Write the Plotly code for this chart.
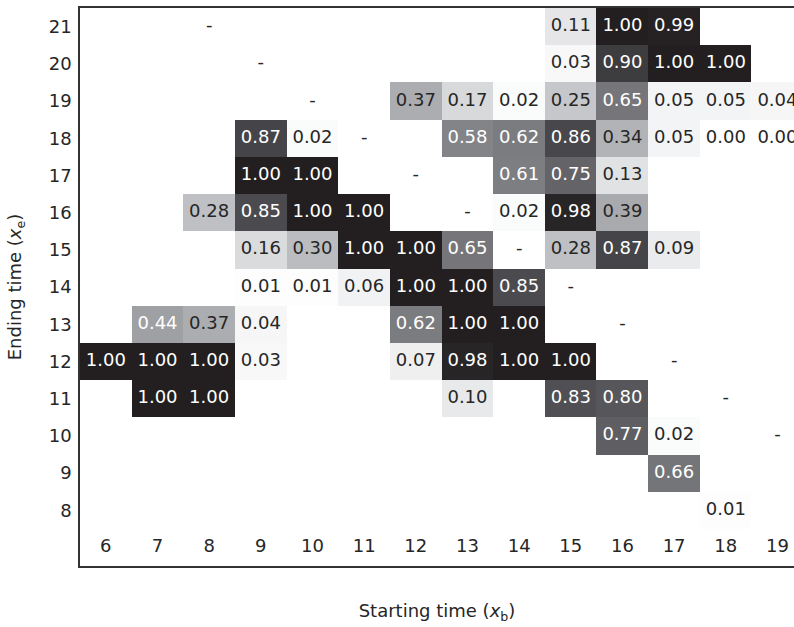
import plotly.graph_objects as go

# ---- data ----
start_times = list(range(6, 20))          # x_b
end_times = list(range(8, 22))            # x_e
N = None
end_8  = [N, N, N, N, N, N, N, N, N, N, N, N, 0.01, N]
end_9  = [N, N, N, N, N, N, N, N, N, N, N, 0.66, N, N]
end_10 = [N, N, N, N, N, N, N, N, N, N, 0.77, 0.02, N, N]
end_11 = [N, 1.00, 1.00, N, N, N, N, 0.10, N, 0.83, 0.80, N, N, N]
end_12 = [1.00, 1.00, 1.00, 0.03, N, N, 0.07, 0.98, 1.00, 1.00, N, N, N, N]
end_13 = [N, 0.44, 0.37, 0.04, N, N, 0.62, 1.00, 1.00, N, N, N, N, N]
end_14 = [N, N, N, 0.01, 0.01, 0.06, 1.00, 1.00, 0.85, N, N, N, N, N]
end_15 = [N, N, N, 0.16, 0.30, 1.00, 1.00, 0.65, N, 0.28, 0.87, 0.09, N, N]
end_16 = [N, N, 0.28, 0.85, 1.00, 1.00, N, N, 0.02, 0.98, 0.39, N, N, N]
end_17 = [N, N, N, 1.00, 1.00, N, N, N, 0.61, 0.75, 0.13, N, N, N]
end_18 = [N, N, N, 0.87, 0.02, N, N, 0.58, 0.62, 0.86, 0.34, 0.05, 0.00, 0.00]
end_19 = [N, N, N, N, N, N, 0.37, 0.17, 0.02, 0.25, 0.65, 0.05, 0.05, 0.04]
end_20 = [N, N, N, N, N, N, N, N, N, 0.03, 0.90, 1.00, 1.00, N]
end_21 = [N, N, N, N, N, N, N, N, N, 0.11, 1.00, 0.99, N, N]

dash_start = [8, 9, 10, 11, 12, 13, 14, 15, 16, 17, 18, 19]
dash_end = [21, 20, 19, 18, 17, 16, 15, 14, 13, 12, 11, 10]

x_tick_labels = [str(v) for v in start_times]
label_row = 7

z = [end_8, end_9, end_10, end_11, end_12, end_13, end_14, end_15,
     end_16, end_17, end_18, end_19, end_20, end_21]

colorscale = [
    [0.00, "rgb(255,255,255)"],
    [0.13, "rgb(225,226,228)"],
    [0.34, "rgb(178,179,182)"],
    [0.50, "rgb(148,149,153)"],
    [0.62, "rgb(123,124,128)"],
    [0.75, "rgb(100,100,104)"],
    [0.86, "rgb(72,72,76)"],
    [1.00, "rgb(35,31,32)"],
]

FONT = "DejaVu Sans"
DARK = "#262626"
FS = 18

fig = go.Figure()
fig.add_trace(go.Heatmap(
    x=start_times, y=end_times, z=z,
    colorscale=colorscale, zmin=0, zmax=1,
    showscale=False, hoverongaps=False,
))

# cell value texts
tx, ty, tt, tc = [], [], [], []
for yi, row in zip(end_times, z):
    for xi, v in zip(start_times, row):
        if v is None:
            continue
        tx.append(xi)
        ty.append(yi)
        tt.append(f"{v:.2f}")
        tc.append("white" if v >= 0.42 else DARK)
fig.add_trace(go.Scatter(
    x=tx, y=ty, text=tt, mode="text",
    textfont=dict(family=FONT, size=FS, color=tc),
    textposition="middle center", hoverinfo="skip", showlegend=False,
))
# dashes
fig.add_trace(go.Scatter(
    x=dash_start, y=dash_end, text=["-"] * len(dash_start), mode="text",
    textfont=dict(family=FONT, size=FS, color=DARK),
    textposition="middle center", hoverinfo="skip", showlegend=False,
))
# x tick labels drawn inside the extra bottom row
fig.add_trace(go.Scatter(
    x=start_times, y=[label_row] * len(start_times), text=x_tick_labels,
    mode="text", textfont=dict(family=FONT, size=FS, color=DARK),
    textposition="middle center", hoverinfo="skip", showlegend=False,
))

fig.update_layout(
    width=794, height=627,
    margin=dict(l=80, r=0, t=8, b=61),
    paper_bgcolor="white", plot_bgcolor="white",
    font=dict(family=FONT, size=FS, color=DARK),
    showlegend=False,
)
fig.update_xaxes(
    range=[5.5, 19.32], showgrid=False, zeroline=False,
    showticklabels=False, ticks="",
    showline=True, mirror=True, linecolor="#333333", linewidth=1.5,
    title=dict(text="Starting time (<i>x</i><sub>b</sub>)",
               font=dict(family=FONT, size=FS, color=DARK), standoff=38),
    automargin=False,
)
fig.update_yaxes(
    range=[6.5, 21.5], showgrid=False, zeroline=False,
    tickvals=end_times, ticktext=[str(v) for v in end_times],
    tickfont=dict(family=FONT, size=FS, color=DARK),
    ticks="outside", ticklen=3, tickcolor="rgba(0,0,0,0)",
    showline=True, mirror=False, linecolor="#333333", linewidth=1.5,
    title=dict(text="Ending time (<i>x</i><sub>e</sub>)",
               font=dict(family=FONT, size=FS, color=DARK), standoff=22),
    automargin=False,
)

fig.write_html("out.html")
